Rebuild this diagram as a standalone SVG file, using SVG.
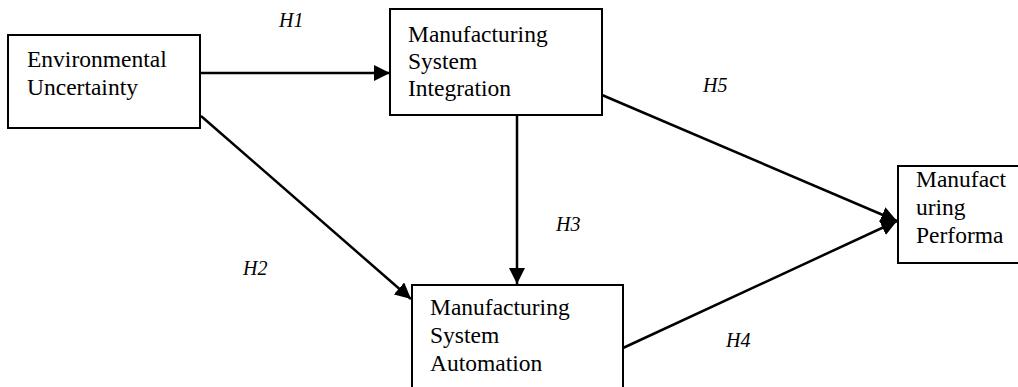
<svg xmlns="http://www.w3.org/2000/svg" width="1018" height="387" viewBox="0 0 1018 387">
<style>
.box{fill:#fff;stroke:#000;stroke-width:2}
.t{font-family:"Liberation Serif",serif;font-size:23.5px;fill:#000}
.h{font-family:"Liberation Serif",serif;font-size:20px;font-style:italic;fill:#000}
.c{stroke:#000;stroke-width:2.5;fill:none;marker-end:url(#ah)}
</style>
<defs>
<marker id="ah" markerUnits="userSpaceOnUse" markerWidth="17" markerHeight="16" refX="16" refY="8" orient="auto" viewBox="0 0 17 16">
<path d="M0,0 L16,8 L0,16 z" fill="#000"/>
</marker>
</defs>
<g id="connectors">
<line class="c" x1="201" y1="73" x2="390" y2="73"/>
<line class="c" x1="201" y1="116" x2="411" y2="299"/>
<line class="c" x1="517" y1="115" x2="517" y2="284"/>
<line class="c" x1="602" y1="95" x2="897" y2="221"/>
<line class="c" x1="623" y1="348" x2="897" y2="221"/>
</g>
<g id="labels">
<text class="h" x="279" y="27">H1</text>
<text class="h" x="243" y="275">H2</text>
<text class="h" x="556" y="231">H3</text>
<text class="h" x="726" y="347">H4</text>
<text class="h" x="703" y="92">H5</text>
</g>
<g id="env">
<rect class="box" x="8" y="35" width="192" height="93"/>
<text class="t" x="27" y="67">Environmental</text>
<text class="t" x="27" y="95">Uncertainty</text>
</g>
<g id="msi">
<rect class="box" x="390" y="9" width="212" height="106"/>
<text class="t" x="408" y="42">Manufacturing</text>
<text class="t" x="408" y="69">System</text>
<text class="t" x="408" y="96">Integration</text>
</g>
<g id="msa">
<rect class="box" x="412" y="285" width="211" height="120"/>
<text class="t" x="430" y="315">Manufacturing</text>
<text class="t" x="430" y="343">System</text>
<text class="t" x="430" y="371">Automation</text>
</g>
<g id="mp">
<rect class="box" x="898" y="166" width="140" height="97"/>
<text class="t" x="916" y="187">Manufact</text>
<text class="t" x="916" y="215">uring</text>
<text class="t" x="916" y="243">Performa</text>
</g>
</svg>
